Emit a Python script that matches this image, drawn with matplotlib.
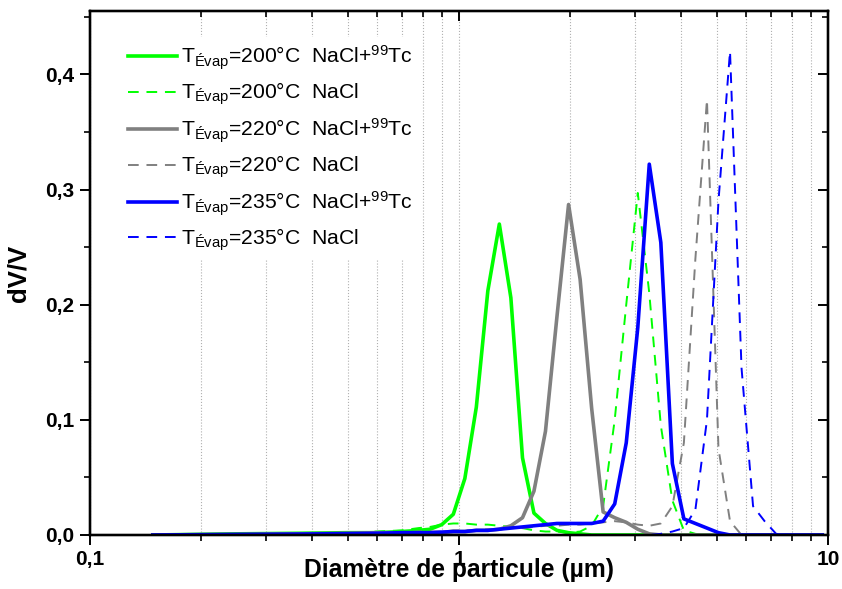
"""Particle size distributions dV/V vs diameter, NaCl and NaCl+99Tc."""

import matplotlib

matplotlib.use("Agg")
import matplotlib.pyplot as plt
from matplotlib.ticker import FixedLocator, FuncFormatter, MultipleLocator, NullFormatter

plt.rcParams["font.family"] = ["Liberation Sans", "DejaVu Sans"]
plt.rcParams["mathtext.fontset"] = "custom"
plt.rcParams["mathtext.rm"] = "Liberation Sans"
plt.rcParams["mathtext.default"] = "regular"

# channel diameters (um)
diam = [0.148, 0.25, 0.37, 0.5, 0.6, 0.7, 0.777, 0.835, 0.898, 0.965,
        1.037, 1.114, 1.197, 1.286, 1.382, 1.486, 1.596, 1.715, 1.843, 1.981,
        2.129, 2.288, 2.458, 2.642, 2.839, 3.051, 3.278, 3.523, 3.786, 4.068,
        4.371, 4.698, 5.048, 5.425, 5.829, 6.264, 6.732, 7.234, 7.774, 8.354,
        8.977, 9.647]

tc200 = [0, 0.001, 0.0015, 0.002, 0.002, 0.003, 0.004, 0.005, 0.009, 0.018,
         0.049, 0.111, 0.212, 0.270, 0.206, 0.067, 0.019, 0.010, 0.004, 0.002,
         0.001, 0, 0, 0, 0, 0, 0, 0, 0, 0,
         0, 0, 0, 0, 0, 0, 0, 0, 0, 0,
         0, 0]
nacl200 = [0, 0.001, 0.0015, 0.002, 0.003, 0.004, 0.006, 0.007, 0.009, 0.010,
           0.010, 0.009, 0.009, 0.008, 0.007, 0.006, 0.004, 0.003, 0.003, 0.002,
           0.003, 0.008, 0.025, 0.100, 0.200, 0.297, 0.210, 0.095, 0.030, 0.004,
           0.001, 0, 0, 0, 0, 0, 0, 0, 0, 0,
           0, 0]
tc220 = [0, 0.0005, 0.001, 0.0015, 0.002, 0.002, 0.002, 0.002, 0.002, 0.003,
         0.003, 0.004, 0.004, 0.005, 0.008, 0.015, 0.038, 0.090, 0.190, 0.287,
         0.222, 0.110, 0.020, 0.015, 0.011, 0.005, 0.001, 0, 0, 0,
         0, 0, 0, 0, 0, 0, 0, 0, 0, 0,
         0, 0]
nacl220 = [0, 0.0005, 0.001, 0.0015, 0.002, 0.002, 0.003, 0.003, 0.003, 0.004,
           0.004, 0.004, 0.005, 0.005, 0.006, 0.006, 0.007, 0.008, 0.008, 0.009,
           0.009, 0.010, 0.011, 0.012, 0.011, 0.009, 0.008, 0.010, 0.025, 0.080,
           0.240, 0.378, 0.075, 0.012, 0, 0, 0, 0, 0, 0,
           0, 0]
tc235 = [0, 0.0005, 0.0008, 0.0012, 0.0015, 0.002, 0.002, 0.002, 0.0025, 0.003,
         0.003, 0.004, 0.004, 0.005, 0.006, 0.007, 0.008, 0.009, 0.010, 0.010,
         0.010, 0.010, 0.012, 0.027, 0.080, 0.180, 0.322, 0.254, 0.062, 0.014,
         0.010, 0.006, 0.002, 0, 0, 0, 0, 0, 0, 0,
         0, 0]
nacl235 = [0, 0, 0, 0, 0, 0, 0, 0, 0, 0,
           0, 0, 0, 0, 0, 0, 0, 0, 0, 0,
           0, 0, 0, 0, 0, 0, 0, 0.001, 0.003, 0.006,
           0.022, 0.100, 0.290, 0.420, 0.145, 0.025, 0.012, 0.001, 0, 0,
           0, 0]

labels = [
    "T$_{Évap}$=200°C  NaCl+$^{99}$Tc",
    "T$_{Évap}$=200°C  NaCl",
    "T$_{Évap}$=220°C  NaCl+$^{99}$Tc",
    "T$_{Évap}$=220°C  NaCl",
    "T$_{Évap}$=235°C  NaCl+$^{99}$Tc",
    "T$_{Évap}$=235°C  NaCl",
]

fig = plt.figure(figsize=(8.42, 5.89), dpi=100)
ax = fig.add_axes([0.1069, 0.0917, 0.8765, 0.8896])

dash = (0, (5.5, 4))
ax.plot(diam, tc200, color="#00ff00", lw=2.6, label=labels[0])
ax.plot(diam, nacl200, color="#00ff00", lw=1.4, ls=dash, label=labels[1])
ax.plot(diam, tc220, color="#808080", lw=2.6, label=labels[2])
ax.plot(diam, nacl220, color="#808080", lw=1.4, ls=dash, label=labels[3])
ax.plot(diam, tc235, color="#0000ff", lw=2.6, label=labels[4])
ax.plot(diam, nacl235, color="#0000ff", lw=1.4, ls=dash, label=labels[5])

ax.set_xscale("log")
ax.set_xlim(0.1, 10)
ax.set_ylim(0, 0.455)

minor_x = [0.2, 0.3, 0.4, 0.5, 0.6, 0.7, 0.8, 0.9, 2, 3, 4, 5, 6, 7, 8, 9]
ax.xaxis.set_major_locator(FixedLocator([0.1, 1, 10]))
ax.xaxis.set_minor_locator(FixedLocator(minor_x))
ax.xaxis.set_major_formatter(FuncFormatter(lambda v, p: f"{v:g}".replace(".", ",")))
ax.xaxis.set_minor_formatter(NullFormatter())
ax.yaxis.set_major_locator(MultipleLocator(0.1))
ax.yaxis.set_minor_locator(MultipleLocator(0.05))
ax.yaxis.set_major_formatter(FuncFormatter(lambda v, p: f"{v:.1f}".replace(".", ",")))

ax.grid(True, which="both", axis="x", color="#b0b0b0", ls=":", lw=0.8)
ax.set_axisbelow(True)

for s in ax.spines.values():
    s.set_linewidth(1.6)
ax.tick_params(which="major", direction="out", length=7, width=1.4,
               labelsize=15, pad=4, top=False, right=False)
ax.tick_params(which="minor", direction="out", length=4, width=1.2,
               top=False, right=False)
for lab in ax.get_xticklabels() + ax.get_yticklabels():
    lab.set_fontweight("bold")

# ticks on top and right point inward
axt = ax.twiny()
axt.set_xscale("log")
axt.set_xlim(ax.get_xlim())
axt.xaxis.set_major_locator(FixedLocator([0.1, 1, 10]))
axt.xaxis.set_minor_locator(FixedLocator(minor_x))
axt.tick_params(which="major", direction="in", length=7, width=1.4, labeltop=False)
axt.tick_params(which="minor", direction="in", length=4, width=1.2)
axr = ax.twinx()
axr.set_ylim(ax.get_ylim())
axr.yaxis.set_major_locator(MultipleLocator(0.1))
axr.yaxis.set_minor_locator(MultipleLocator(0.05))
axr.tick_params(which="major", direction="in", length=7, width=1.4, labelright=False)
axr.tick_params(which="minor", direction="in", length=4, width=1.2)
for a in (axt, axr):
    for s in a.spines.values():
        s.set_linewidth(1.6)

ax.set_xlabel("Diamètre de particule (µm)", fontsize=17.7, fontweight="bold", labelpad=-8)
ax.set_ylabel("dV/V", fontsize=18.5, fontweight="bold", labelpad=11)

leg = axr.legend(*ax.get_legend_handles_labels(), loc="upper left",
                 bbox_to_anchor=(0.028, 0.970), frameon=True, fontsize=15.2,
                 handlelength=2.35, handletextpad=0.2, labelspacing=0.425,
                 borderpad=0.3)
leg.get_frame().set_edgecolor("none")
leg.get_frame().set_facecolor("white")
leg.get_frame().set_alpha(1)
leg.get_frame().set_boxstyle("square", pad=0)

fig.savefig("out.png", dpi=100)
